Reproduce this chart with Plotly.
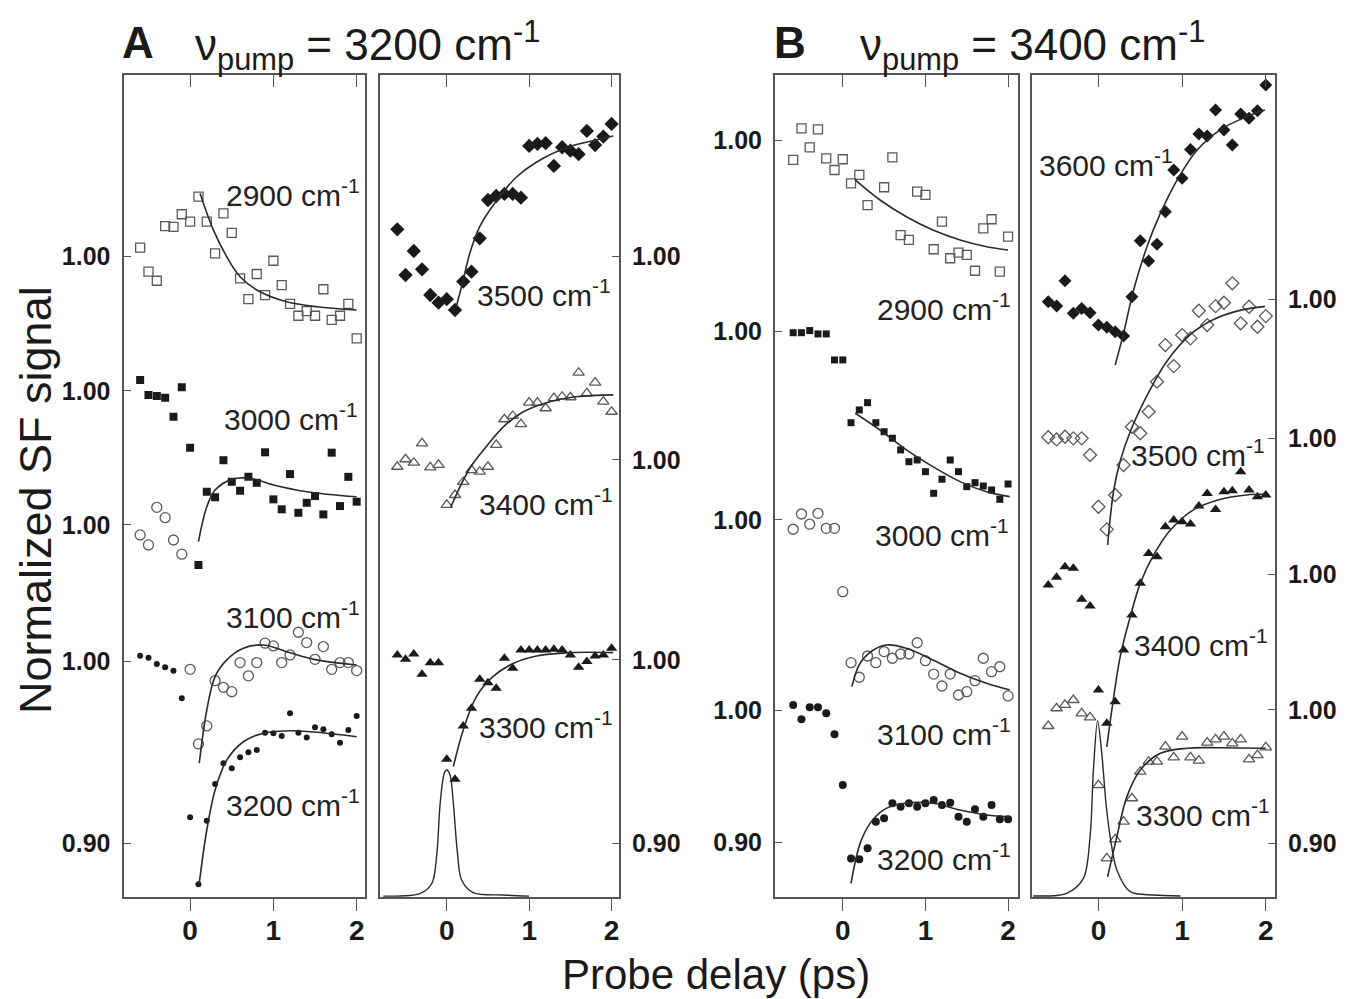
import plotly.graph_objects as go

# ---------------- data ----------------
delay = [-0.6, -0.5, -0.4, -0.3, -0.2, -0.1, 0.0, 0.1, 0.2, 0.3, 0.4, 0.5, 0.6, 0.7,
         0.8, 0.9, 1.0, 1.1, 1.2, 1.3, 1.4, 1.5, 1.6, 1.7, 1.8, 1.9, 2.0]

# Panel A, left (pump 3200)
a_2900 = [1.0046, 0.9914, 0.9864, 1.0165, 1.0161, 1.0230, 1.0189, 1.0327, 1.0189, 1.0015, 1.0235, 1.0128, 0.9877, 0.9763,
          0.9901, 0.9785, 0.9974, 0.9840, 0.9736, 0.9671, 0.9697, 0.9671, 0.9817, 0.9648, 0.9671, 0.9736, 0.9547]
a_3000 = [1.0059, 0.9976, 0.9971, 0.9961, 0.9857, 1.0019, 0.9686, 0.9040, 0.9444, 0.9413, 0.9618, 0.9499, 0.9449, 0.9526,
          0.9493, 0.9661, 0.9402, 0.9347, 0.9541, 0.9328, 0.9383, 0.9420, 0.9319, 0.9659, 0.9365, 0.9526, 0.9389]
a_3100 = [0.9945, 0.9890, 1.0097, 1.0040, 0.9917, 0.9839, 0.9205, 0.8794, 0.8893, 0.9143, 0.9106, 0.9082, 0.9242, 0.9169,
          0.9242, 0.9349, 0.9334, 0.9242, 0.9284, 0.9409, 0.9352, 0.9260, 0.9330, 0.9205, 0.9242, 0.9242, 0.9198]
a_3200 = [1.0033, 1.0022, 0.9987, 0.9969, 0.9950, 0.9798, 0.9143, 0.8774, 0.9124, 0.9327, 0.9441, 0.9413, 0.9474, 0.9501,
          0.9514, 0.9609, 0.9606, 0.9591, 0.9716, 0.9609, 0.9582, 0.9639, 0.9628, 0.9600, 0.9554, 0.9624, 0.9701]
fa_2900_x = [0.12, 0.28, 0.44, 0.60, 0.84, 1.16, 1.52, 2.0]
fa_2900_y = [1.0345, 1.0143, 0.9996, 0.9886, 0.9803, 0.9748, 0.9721, 0.9703]
fa_3000_x = [0.1, 0.2, 0.3, 0.5, 0.72, 1.0, 1.4, 2.0]
fa_3000_y = [0.9169, 0.9361, 0.9453, 0.9512, 0.9518, 0.9481, 0.9444, 0.9416]
fa_3100_x = [0.11, 0.2, 0.3, 0.44, 0.64, 0.88, 1.16, 1.52, 2.0]
fa_3100_y = [0.8688, 0.8981, 0.9165, 0.9257, 0.9321, 0.9339, 0.9302, 0.9257, 0.9229]
fa_3200_x = [0.11, 0.2, 0.3, 0.44, 0.64, 0.88, 1.24, 2.0]
fa_3200_y = [0.8780, 0.9073, 0.9293, 0.9458, 0.9559, 0.9606, 0.9620, 0.9587]

# Panel A, right
ar_3500 = [1.0149, 0.9900, 1.0031, 0.9931, 0.9791, 0.9749, 0.9768, 0.9709, 0.9864, 0.9918, 1.0100, 1.0309, 1.0331, 1.0342,
           1.0342, 1.0322, 1.0604, 1.0615, 1.0619, 1.0495, 1.0597, 1.0578, 1.0559, 1.0686, 1.0609, 1.0655, 1.0724]
ar_3400 = [0.9963, 1.0004, 0.9985, 1.0091, 0.9960, 0.9973, 0.9755, 0.9809, 0.9880, 0.9945, 0.9936, 0.9963, 1.0082, 1.0222,
           1.0240, 1.0196, 1.0313, 1.0313, 1.0282, 1.0337, 1.0345, 1.0342, 1.0476, 1.0364, 1.0422, 1.0318, 1.0263]
ar_3300 = [1.0027, 1.0004, 1.0033, 0.9922, 0.9985, 0.9985, 0.9458, 0.9349, 0.9640, 0.9736, 0.9895, 0.9876, 0.9846, 1.0009,
           0.9955, 1.0055, 1.0055, 1.0055, 1.0055, 1.0058, 1.0055, 1.0027, 0.9960, 0.9991, 1.0022, 1.0027, 1.0064]
far_3500_x = [0.11, 0.2, 0.28, 0.4, 0.61, 0.85, 1.17, 1.49, 1.82, 2.02]
far_3500_y = [0.9718, 0.9873, 1.0019, 1.0164, 1.0309, 1.0436, 1.0537, 1.0600, 1.0637, 1.0658]
far_3400_x = [0.05, 0.28, 0.48, 0.69, 0.93, 1.25, 1.57, 2.02]
far_3400_y = [0.9745, 0.9955, 1.0073, 1.0182, 1.0263, 1.0318, 1.0345, 1.0355]
far_3300_x = [0.08, 0.2, 0.36, 0.56, 0.81, 1.09, 1.49, 2.02]
far_3300_y = [0.9418, 0.9618, 0.9800, 0.9909, 0.9982, 1.0022, 1.0040, 1.0040]
xcorr_a_x = [-0.77, -0.32, -0.18, -0.12, -0.08, -0.03, 0.0, 0.04, 0.08, 0.13, 0.18, 0.32, 0.69, 1.0]
xcorr_a_y = [0.8712, 0.8727, 0.8782, 0.8945, 0.9218, 0.9382, 0.9400, 0.9373, 0.9218, 0.8945, 0.8800, 0.8731, 0.8718, 0.8712]

# Panel B, left (pump 3400)
bl_2900 = [0.9855, 1.0093, 0.9950, 1.0086, 0.9867, 0.9779, 0.9860, 0.9679, 0.9742, 0.9515, None, 0.9649, 0.9875, 0.9289,
           0.9252, 0.9616, 0.9591, 0.9182, 0.9390, 0.9114, 0.9156, 0.9139, 0.9020, 0.9340, 0.9408, 0.9013, 0.9277]
bl_3000 = [0.9992, 0.9992, 1.0008, 0.9983, 0.9983, 0.9787, 0.9787, 0.9314, 0.9410, 0.9465, 0.9314, 0.9246, 0.9197, 0.9109,
           0.9020, 0.9033, 0.8945, 0.8782, 0.8888, 0.9033, 0.8945, 0.8832, 0.8862, 0.8837, 0.8807, 0.8737, 0.8852]
bl_3100 = [0.9930, 1.0045, 0.9968, 1.0050, 0.9937, 0.9937, 0.9460, 0.8925, 0.8815, 0.8975, 0.8925, 0.9008, 0.8958, 0.8990,
           0.8990, 0.9075, 0.8940, 0.8839, 0.8749, 0.8839, 0.8681, 0.8706, 0.8789, 0.8958, 0.8857, 0.8894, 0.8674]
bl_3200 = [1.0038, 0.9930, 1.0020, 1.0020, 0.9975, 0.9817, 0.9435, 0.8882, 0.8875, 0.8958, 0.9158, 0.9184, 0.9297, 0.9271,
           0.9297, 0.9271, 0.9297, 0.9322, 0.9284, 0.9301, 0.9196, 0.9158, 0.9252, 0.9196, 0.9284, 0.9176, 0.9176]
fbl_2900_x = [0.15, 0.45, 0.77, 1.09, 1.42, 1.74, 2.0]
fbl_2900_y = [0.9704, 0.9553, 0.9427, 0.9327, 0.9252, 0.9201, 0.9176]
fbl_3000_x = [0.15, 0.45, 0.77, 1.09, 1.42, 1.74, 2.02]
fbl_3000_y = [0.9385, 0.9259, 0.9109, 0.8983, 0.8870, 0.8794, 0.8757]
fbl_3100_x = [0.11, 0.21, 0.37, 0.53, 0.77, 1.09, 1.42, 1.74, 2.02]
fbl_3100_y = [0.8744, 0.8920, 0.9020, 0.9058, 0.9033, 0.8945, 0.8845, 0.8769, 0.8719]
fbl_3200_x = [0.10, 0.21, 0.33, 0.49, 0.69, 1.09, 1.42, 1.74, 2.02]
fbl_3200_y = [0.8694, 0.8995, 0.9146, 0.9246, 0.9292, 0.9297, 0.9246, 0.9209, 0.9196]

# Panel B, right
br_3600 = [0.9982, 0.9950, 1.0140, 0.9895, 0.9932, 0.9899, 0.9807, 0.9790, 0.9757, 0.9725, 1.0020, 1.0440, 1.0287, 1.0413,
           1.0657, 1.0970, 1.0908, 1.1125, 1.1240, 1.1225, 1.1420, 1.1270, 1.1158, 1.1390, 1.1358, 1.1415, 1.1608]
br_3500 = [1.0008, 0.9992, 1.0012, 1.0000, 1.0000, 0.9875, 0.9487, 0.9317, 0.9575, 0.9800, 1.0087, 1.0038, 1.0200, 1.0425,
           1.0700, 1.0542, 1.0775, 1.0750, 1.0957, 1.0850, 1.0992, 1.1017, 1.1163, 1.0863, 1.0987, 1.0837, 1.0917]
br_3400 = [0.9917, 0.9975, 1.0055, 1.0043, 0.9810, 0.9760, 0.9130, 0.8880, 0.9042, 0.9430, 0.9692, 0.9930, 1.0155, 1.0130,
           1.0355, 1.0405, 1.0392, 1.0375, 1.0510, 1.0605, 1.0485, 1.0617, 1.0625, 1.0767, 1.0630, 1.0580, 1.0593]
br_3300 = [0.9880, 1.0013, 1.0038, 1.0075, 0.9975, 0.9945, 0.9437, 0.8887, 0.9030, 0.9162, 0.9338, 0.9537, 0.9612, 0.9612,
           0.9725, 0.9645, 0.9800, 0.9645, 0.9620, 0.9755, 0.9780, 0.9800, 0.9750, 0.9780, 0.9630, 0.9662, 0.9720]
fbr_3600_x = [0.20, 0.30, 0.42, 0.58, 0.74, 0.94, 1.18, 1.45, 1.77, 1.99]
fbr_3600_y = [0.9507, 0.9745, 1.0070, 1.0395, 1.0645, 1.0895, 1.1120, 1.1270, 1.1370, 1.1420]
fbr_3500_x = [0.11, 0.18, 0.26, 0.38, 0.58, 0.82, 1.10, 1.37, 1.69, 1.99]
fbr_3500_y = [0.920, 0.960, 0.983, 1.005, 1.032, 1.058, 1.078, 1.089, 1.096, 1.099]
fbr_3400_x = [0.10, 0.16, 0.26, 0.38, 0.50, 0.66, 0.86, 1.13, 1.45, 1.77, 2.0]
fbr_3400_y = [0.8704, 0.8980, 0.9380, 0.9680, 0.9930, 1.0143, 1.0330, 1.0480, 1.0560, 1.0593, 1.0600]
fbr_3300_x = [0.11, 0.22, 0.34, 0.50, 0.74, 1.06, 1.45, 2.0]
fbr_3300_y = [0.8749, 0.9050, 0.9350, 0.9550, 0.9675, 0.9713, 0.9717, 0.9713]
xcorr_b_x = [-0.78, -0.38, -0.18, -0.10, -0.06, -0.01, 0.04, 0.09, 0.14, 0.22, 0.38, 0.66, 0.98]
xcorr_b_y = [0.8605, 0.8625, 0.8737, 0.9050, 0.9550, 0.9920, 0.9675, 0.9300, 0.9050, 0.8800, 0.8637, 0.8612, 0.8605]

x_ticks = [0, 1, 2]
x_tick_text = ["0", "1", "2"]

# ---------------- styling ----------------
W, H = 1347, 999
FONT = "Liberation Sans, Arial, Helvetica, sans-serif"
INK = "#1a1a1a"
OPEN = "#5a5a5a"
FRAME = "#555555"
FITC = "#2a2a2a"


def fx(p):
    return p / W


def fy(p):
    return 1 - p / H


ydom = [fy(897), fy(75)]

panels = [
    dict(xd=[fx(123.5), fx(365)], xr=[-0.8, 2.1], yr=[0.8704, 1.3231], side="left"),
    dict(xd=[fx(380), fx(619)], xr=[-0.81, 2.09], yr=[0.8707, 1.3191], side="right"),
    dict(xd=[fx(775), fx(1018)], xr=[-0.82, 2.12], yr=[0.8591, 1.4785], side="left"),
    dict(xd=[fx(1031.5), fx(1275)], xr=[-0.8, 2.11], yr=[0.8597, 1.4764], side="right"),
]

offsets = [
    {"3200": 0.0, "3100": 0.0753, "3000": 0.1492, "2900": 0.2234},
    {"3300": 0.0, "3400": 0.1091, "3500": 0.2200},
    {"3200": 0.0, "3100": 0.1432, "3000": 0.2851, "2900": 0.4290},
    {"3300": 0.0, "3400": 0.1020, "3500": 0.2038, "3600": 0.3081},
]

series = [
    # panel index, key, values, marker symbol, size, filled, fit x, fit y
    (0, "2900", a_2900, "square-open", 9, False, fa_2900_x, fa_2900_y),
    (0, "3000", a_3000, "square", 8, True, fa_3000_x, fa_3000_y),
    (0, "3100", a_3100, "circle-open", 10, False, fa_3100_x, fa_3100_y),
    (0, "3200", a_3200, "circle", 6, True, fa_3200_x, fa_3200_y),
    (1, "3500", ar_3500, "diamond", 11, True, far_3500_x, far_3500_y),
    (1, "3400", ar_3400, "triangle-up-open", 10, False, far_3400_x, far_3400_y),
    (1, "3300", ar_3300, "triangle-up", 10, True, far_3300_x, far_3300_y),
    (2, "2900", bl_2900, "square-open", 9, False, fbl_2900_x, fbl_2900_y),
    (2, "3000", bl_3000, "square", 7, True, fbl_3000_x, fbl_3000_y),
    (2, "3100", bl_3100, "circle-open", 10, False, fbl_3100_x, fbl_3100_y),
    (2, "3200", bl_3200, "circle", 8, True, fbl_3200_x, fbl_3200_y),
    (3, "3600", br_3600, "diamond", 10, True, fbr_3600_x, fbr_3600_y),
    (3, "3500", br_3500, "diamond-open", 10, False, fbr_3500_x, fbr_3500_y),
    (3, "3400", br_3400, "triangle-up", 10, True, fbr_3400_x, fbr_3400_y),
    (3, "3300", br_3300, "triangle-up-open", 10, False, fbr_3300_x, fbr_3300_y),
]

fig = go.Figure()


def axn(i, base="x"):
    return base if i == 0 else f"{base}{i + 1}"


for (pi, key, vals, sym, size, filled, fxs, fys) in series:
    off = offsets[pi][key]
    xa, ya = axn(pi, "x"), axn(pi, "y")
    if filled:
        mk = dict(symbol=sym, size=size, color=INK, line=dict(width=0))
    else:
        mk = dict(symbol=sym, size=size, color=OPEN, line=dict(width=1.3, color=OPEN))
    fig.add_trace(go.Scatter(
        x=delay, y=[None if v is None else v + off for v in vals],
        mode="markers", marker=mk, xaxis=xa, yaxis=ya, showlegend=False,
        hoverinfo="skip"))
    fig.add_trace(go.Scatter(
        x=fxs, y=[v + off for v in fys], mode="lines",
        line=dict(color=FITC, width=1.6, shape="spline", smoothing=1.0),
        xaxis=xa, yaxis=ya, showlegend=False, hoverinfo="skip"))

# cross-correlation traces
fig.add_trace(go.Scatter(x=xcorr_a_x, y=xcorr_a_y, mode="lines",
                         line=dict(color=FITC, width=1.4, shape="spline", smoothing=0.9),
                         xaxis="x2", yaxis="y2", showlegend=False, hoverinfo="skip"))
fig.add_trace(go.Scatter(x=xcorr_b_x, y=xcorr_b_y, mode="lines",
                         line=dict(color=FITC, width=1.4, shape="spline", smoothing=0.9),
                         xaxis="x4", yaxis="y4", showlegend=False, hoverinfo="skip"))

layout = dict(
    template="none",
    width=W, height=H, margin=dict(l=0, r=0, t=0, b=0, pad=0, autoexpand=False),
    autosize=False,
    paper_bgcolor="white", plot_bgcolor="white", showlegend=False,
    font=dict(family=FONT, color=INK),
)

for i, p in enumerate(panels):
    xk = "xaxis" if i == 0 else f"xaxis{i + 1}"
    yk = "yaxis" if i == 0 else f"yaxis{i + 1}"
    yid = axn(i, "y")
    xid = axn(i, "x")
    offs = sorted(offsets[i].values())
    tv = [0.90] + [1.0 + o for o in offs]
    tt = ["0.90"] + ["1.00"] * len(offs)
    layout[xk] = dict(
        domain=p["xd"], range=p["xr"], anchor=yid, showgrid=False, zeroline=False,
        automargin=False,
        showline=True, linecolor=FRAME, linewidth=2, mirror=True,
        ticks="outside", ticklen=12, tickwidth=1.3, tickcolor=FRAME,
        tickvals=x_ticks, ticktext=x_tick_text, ticklabelstandoff=-5,
        tickfont=dict(size=28, family=FONT, color=INK, weight="bold"),
    )
    layout[yk] = dict(
        domain=ydom, range=p["yr"], anchor=xid, side=p["side"], showgrid=False,
        automargin=False,
        zeroline=False, showline=True, linecolor=FRAME, linewidth=2, mirror=True,
        ticks="inside", ticklen=7, tickwidth=1.3, tickcolor=FRAME,
        tickvals=tv, ticktext=tt, ticklabelstandoff=6,
        tickfont=dict(size=25, family=FONT, color=INK, weight="bold"),
    )
    # top axis carrying the inward ticks
    tk = f"xaxis{i + 5}"
    layout[tk] = dict(
        overlaying=xid, side="top", anchor=yid, range=p["xr"], showgrid=False,
        automargin=False,
        zeroline=False, showline=False, ticks="inside", ticklen=12, tickwidth=1.3,
        tickcolor=FRAME, tickvals=x_ticks, showticklabels=False,
    )
    fig.add_trace(go.Scatter(x=[None], y=[None], xaxis=f"x{i + 5}", yaxis=yid,
                             showlegend=False, hoverinfo="skip"))

SUP = "<sup>-1</sup>"
labels = [
    ("x", "y", "2900 cm" + SUP, 2.06, 1.2581),
    ("x", "y", "3000 cm" + SUP, 2.04, 1.1348),
    ("x", "y", "3100 cm" + SUP, 2.06, 1.0257),
    ("x", "y", "3200 cm" + SUP, 2.06, 0.9222),
    ("x2", "y2", "3500 cm" + SUP, 2.02, 1.2000),
    ("x2", "y2", "3400 cm" + SUP, 2.04, 1.0864),
    ("x2", "y2", "3300 cm" + SUP, 2.04, 0.9645),
    ("x3", "y3", "2900 cm" + SUP, 2.06, 1.3039),
    ("x3", "y3", "3000 cm" + SUP, 2.04, 1.1332),
    ("x3", "y3", "3100 cm" + SUP, 2.06, 0.9836),
    ("x3", "y3", "3200 cm" + SUP, 2.06, 0.8894),
    ("x4", "y4", "3600 cm" + SUP, 0.91, 1.4101),
    ("x4", "y4", "3500 cm" + SUP, 2.01, 1.1926),
    ("x4", "y4", "3400 cm" + SUP, 2.05, 1.0500),
    ("x4", "y4", "3300 cm" + SUP, 2.07, 0.9225),
]
ann = []
for xr, yr, t, xv, yv in labels:
    ann.append(dict(xref=xr, yref=yr, x=xv, y=yv, text=t, showarrow=False,
                    xanchor="right", yanchor="middle",
                    font=dict(size=30, family=FONT, color="#222222")))

# panel titles
ann.append(dict(xref="paper", yref="paper", x=fx(120), y=fy(42), text="A", showarrow=False,
                xanchor="left", yanchor="middle",
                font=dict(size=44, family=FONT, color=INK, weight="bold")))
ann.append(dict(xref="paper", yref="paper", x=fx(193), y=fy(46),
                text="\u03bd<sub>pump</sub> = 3200 cm<sup>-1</sup>", showarrow=False,
                xanchor="left", yanchor="middle", font=dict(size=44, family=FONT, color=INK)))
ann.append(dict(xref="paper", yref="paper", x=fx(772), y=fy(42), text="B", showarrow=False,
                xanchor="left", yanchor="middle",
                font=dict(size=44, family=FONT, color=INK, weight="bold")))
ann.append(dict(xref="paper", yref="paper", x=fx(858), y=fy(46),
                text="\u03bd<sub>pump</sub> = 3400 cm<sup>-1</sup>", showarrow=False,
                xanchor="left", yanchor="middle", font=dict(size=44, family=FONT, color=INK)))
# axis titles
ann.append(dict(xref="paper", yref="paper", x=fx(35), y=fy(500), text="Normalized SF signal",
                showarrow=False, textangle=-90, xanchor="center", yanchor="middle",
                font=dict(size=45, family=FONT, color=INK)))
ann.append(dict(xref="paper", yref="paper", x=fx(716), y=fy(974), text="Probe delay (ps)",
                showarrow=False, xanchor="center", yanchor="middle",
                font=dict(size=42, family=FONT, color=INK)))

layout["annotations"] = ann
fig.update_layout(**layout)
fig.write_html(
    "out.html",
    config={"displayModeBar": False},
    post_script="document.body.style.margin='0px';document.body.style.padding='0px';"
                "document.body.style.overflow='hidden';",
)
